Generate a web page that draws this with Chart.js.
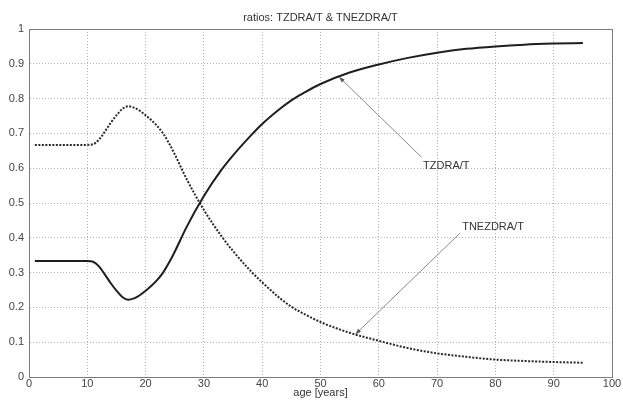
<!DOCTYPE html>
<html>
<head>
<meta charset="utf-8">
<script src="https://cdn.jsdelivr.net/npm/chart.js@4.4.1/dist/chart.umd.min.js"></script>
<style>
    html, body { margin: 0; padding: 0; background: #ffffff; }
    #wrap { width: 623px; height: 400px; position: relative; }
</style>
</head>
<body>
<div id="wrap"><canvas id="ratioChart" width="623" height="400"></canvas></div>
<script>
// values
const ages = [1, 5, 10, 11, 12, 13, 14, 15, 16, 17, 18, 19, 20, 21, 22, 23, 24, 25, 27, 30, 33, 35, 38, 40, 43, 45, 47, 50, 55, 60, 65, 70, 75, 80, 85, 90, 95];
const tzdra = [0.333, 0.333, 0.333, 0.331, 0.318, 0.295, 0.27, 0.248, 0.23, 0.222, 0.226, 0.235, 0.248, 0.262, 0.279, 0.3, 0.328, 0.36, 0.43, 0.52, 0.595, 0.637, 0.693, 0.727, 0.77, 0.795, 0.815, 0.842, 0.875, 0.898, 0.917, 0.932, 0.943, 0.95, 0.955, 0.958, 0.96];
const tnezdra = [0.667, 0.667, 0.667, 0.669, 0.682, 0.705, 0.73, 0.752, 0.77, 0.778, 0.774, 0.765, 0.752, 0.738, 0.721, 0.7, 0.672, 0.64, 0.57, 0.48, 0.405, 0.362, 0.305, 0.272, 0.227, 0.202, 0.183, 0.158, 0.127, 0.104, 0.083, 0.068, 0.058, 0.05, 0.046, 0.043, 0.041];
const xTicks = [0, 10, 20, 30, 40, 50, 60, 70, 80, 90, 100];
const yTicks = [0, 0.1, 0.2, 0.3, 0.4, 0.5, 0.6, 0.7, 0.8, 0.9, 1];

const chartTitle = 'ratios: TZDRA/T & TNEZDRA/T';
const xTitle = 'age [years]';

// arrow labels: [text, text age, text value, line start age, line start value, tip age, tip value]
const notes = [
    ['TZDRA/T', 67.6, 0.606, 67.3, 0.632, 53.2, 0.862],
    ['TNEZDRA/T', 74.3, 0.43, 73.9, 0.413, 56, 0.123]
];

const fontFamily = '"Liberation Sans", Arial, sans-serif';

const toPoints = (xs, ys) => xs.map((x, i) => ({ x: x, y: ys[i] }));

const framePlugin = {
    id: 'frame',
    afterDraw(chart) {
        const ctx = chart.ctx;
        const area = chart.chartArea;
        const xs = chart.scales.x;
        const ys = chart.scales.y;

        ctx.save();
        ctx.strokeStyle = '#7a7a7a';
        ctx.lineWidth = 1;
        ctx.strokeRect(area.left + 0.5, area.top + 0.5, area.right - area.left, area.bottom - area.top);

        ctx.fillStyle = '#333333';
        ctx.font = '11px ' + fontFamily;
        ctx.textAlign = 'center';
        ctx.textBaseline = 'middle';
        ctx.fillText(chartTitle, (area.left + area.right) / 2, 18);
        ctx.fillText(xTitle, (area.left + area.right) / 2, 393);

        notes.forEach(n => {
            const sx = xs.getPixelForValue(n[3]);
            const sy = ys.getPixelForValue(n[4]);
            const tx = xs.getPixelForValue(n[5]);
            const ty = ys.getPixelForValue(n[6]);
            ctx.strokeStyle = '#8a8a8a';
            ctx.beginPath();
            ctx.moveTo(sx, sy);
            ctx.lineTo(tx, ty);
            ctx.stroke();

            const ang = Math.atan2(ty - sy, tx - sx);
            ctx.fillStyle = '#555555';
            ctx.beginPath();
            ctx.moveTo(tx, ty);
            ctx.lineTo(tx - 6 * Math.cos(ang - 0.35), ty - 6 * Math.sin(ang - 0.35));
            ctx.lineTo(tx - 6 * Math.cos(ang + 0.35), ty - 6 * Math.sin(ang + 0.35));
            ctx.closePath();
            ctx.fill();

            ctx.fillStyle = '#333333';
            ctx.textAlign = 'left';
            ctx.fillText(n[0], xs.getPixelForValue(n[1]), ys.getPixelForValue(n[2]));
        });
        ctx.restore();
    }
};

const ctx = document.getElementById('ratioChart').getContext('2d');

new Chart(ctx, {
    type: 'line',
    data: {
        datasets: [{
            label: 'TZDRA/T',
            data: toPoints(ages, tzdra),
            borderColor: '#1e1e1e',
            borderWidth: 2,
            pointRadius: 0,
            fill: false,
            cubicInterpolationMode: 'monotone'
        }, {
            label: 'TNEZDRA/T',
            data: toPoints(ages, tnezdra),
            borderColor: '#2a2a2a',
            borderWidth: 2,
            borderDash: [2, 1.5],
            pointRadius: 0,
            fill: false,
            cubicInterpolationMode: 'monotone'
        }]
    },
    options: {
        responsive: false,
        animation: false,
        layout: { padding: { top: 29, right: 11, left: 0, bottom: 0 } },
        plugins: {
            legend: { display: false },
            tooltip: { enabled: false },
            title: { display: false }
        },
        scales: {
            x: {
                type: 'linear',
                min: 0,
                max: 100,
                afterFit: scale => { scale.height = 23; },
                afterBuildTicks: scale => { scale.ticks = xTicks.map(v => ({ value: v })); },
                grid: { color: '#b4b4b4', drawTicks: false },
                border: { color: '#7a7a7a', dash: [1, 2] },
                ticks: {
                    color: '#444444',
                    padding: 0,
                    maxRotation: 0,
                    font: { family: fontFamily, size: 11 }
                }
            },
            y: {
                type: 'linear',
                min: 0,
                max: 1,
                afterFit: scale => { scale.width = 29; },
                afterBuildTicks: scale => { scale.ticks = yTicks.map(v => ({ value: v })); },
                grid: { color: '#b4b4b4', drawTicks: false },
                border: { color: '#7a7a7a', dash: [1, 2] },
                ticks: {
                    color: '#444444',
                    padding: 5,
                    font: { family: fontFamily, size: 11 },
                    callback: v => (v === 0 || v === 1) ? String(v) : v.toFixed(1)
                }
            }
        }
    },
    plugins: [framePlugin]
});
</script>
</body>
</html>
